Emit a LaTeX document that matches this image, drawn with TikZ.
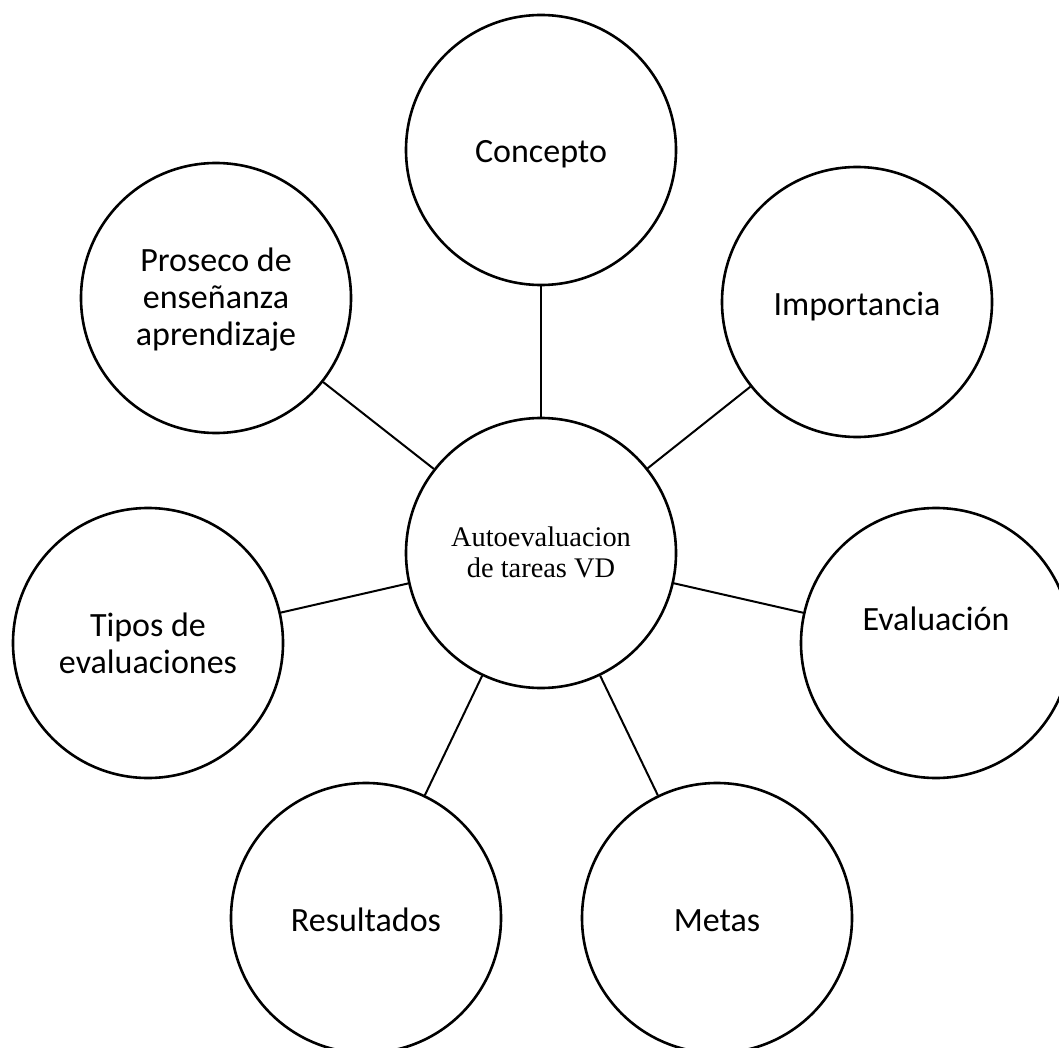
\documentclass[tikz,border=0pt]{standalone}
\usepackage{fontspec}
\setmainfont{Carlito}
\newfontfamily\hubfont{Liberation Serif}
\usepackage{tikz}

\begin{document}
\begin{tikzpicture}
[ x=0.5pt, y=-0.5pt, line width=1pt
, hub/.style={circle, draw, line width=1.3pt, minimum size=135pt, inner sep=0pt, align=center, font=\hubfont\fontsize{14.2}{15.5}\selectfont}
, topic/.style={circle, draw, line width=1.3pt, minimum size=135pt, inner sep=0pt, align=center, font=\fontsize{17}{18.5}\selectfont, text height=13pt, text depth=0pt}
, link/.style={line width=1pt}
]
\useasboundingbox (0,0) rectangle (1059,1048);
% centre
\node (auto) [hub, text height=24pt, text depth=0pt] at (541,553) {Autoevaluacion\\de tareas VD};
% outer ring, clockwise from the top
\node (concepto) [topic] at (541,150) {Concepto};
\node (importancia) [topic] at (857,302) {Importancia};
\node (evaluacion) [topic, text height=0pt, text depth=13pt] at (936,643) {Evaluación};
\node (metas) [topic] at (717,918) {Metas};
\node (resultados) [topic] at (366,918) {Resultados};
\node (tipos) [topic, text height=30pt] at (148,643) {Tipos de\\evaluaciones};
\node (proseco) [topic, text height=47pt] at (216,298) {Proseco de\\enseñanza\\aprendizaje};
% spokes
\draw [link] (auto) -- (concepto);
\draw [link] (auto) -- (importancia);
\draw [link] (auto) -- (evaluacion);
\draw [link] (auto) -- (metas);
\draw [link] (auto) -- (resultados);
\draw [link] (auto) -- (tipos);
\draw [link] (auto) -- (proseco);
\end{tikzpicture}
\end{document}
